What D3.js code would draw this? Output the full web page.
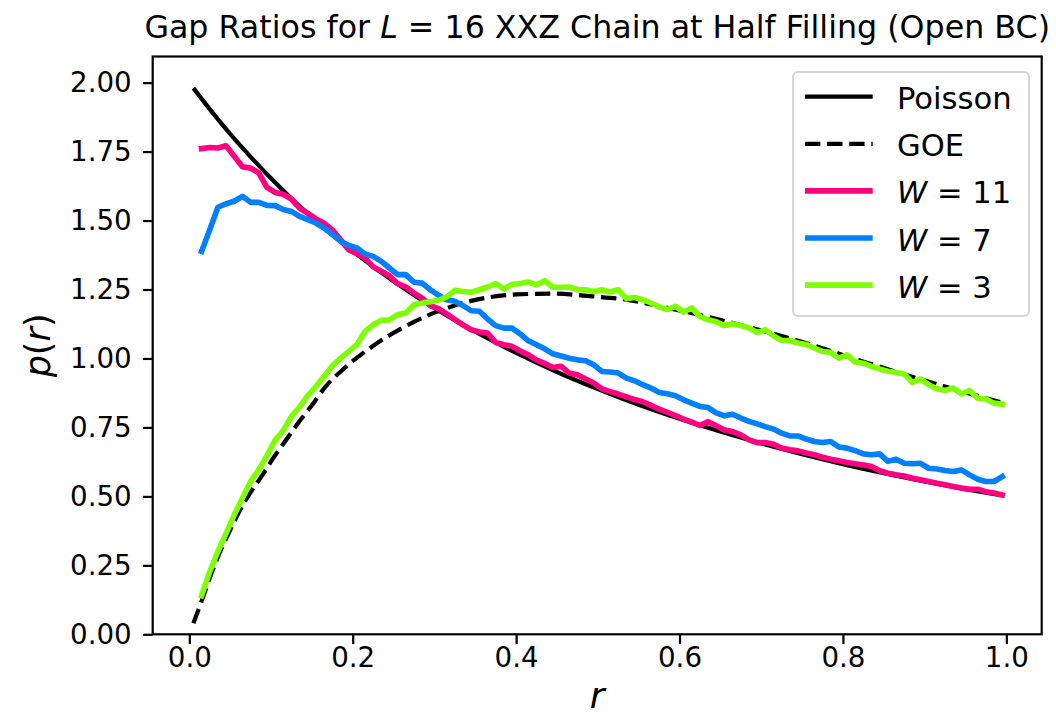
<!DOCTYPE html>
<html>
<head>
<meta charset="utf-8">
<script src="https://cdnjs.cloudflare.com/ajax/libs/d3/7.8.5/d3.min.js"></script>
<style>
  body { margin: 0; background: #fff; }
  svg { display: block; font-family: "DejaVu Sans", sans-serif; }
</style>
</head>
<body>
<svg id="chart" width="1056" height="719"></svg>
<script>
// Histogram bin centres (r) for the disorder series
var rBins = [0.015, 0.025, 0.035, 0.045, 0.055, 0.065, 0.075, 0.085, 0.095, 0.105,
    0.115, 0.125, 0.135, 0.145, 0.155, 0.165, 0.175, 0.185, 0.195, 0.205,
    0.215, 0.225, 0.235, 0.245, 0.255, 0.265, 0.275, 0.285, 0.295, 0.305,
    0.315, 0.325, 0.335, 0.345, 0.355, 0.365, 0.375, 0.385, 0.395, 0.405,
    0.415, 0.425, 0.435, 0.445, 0.455, 0.465, 0.475, 0.485, 0.495, 0.505,
    0.515, 0.525, 0.535, 0.545, 0.555, 0.565, 0.575, 0.585, 0.595, 0.605,
    0.615, 0.625, 0.635, 0.645, 0.655, 0.665, 0.675, 0.685, 0.695, 0.705,
    0.715, 0.725, 0.735, 0.745, 0.755, 0.765, 0.775, 0.785, 0.795, 0.805,
    0.815, 0.825, 0.835, 0.845, 0.855, 0.865, 0.875, 0.885, 0.895, 0.905,
    0.915, 0.925, 0.935, 0.945, 0.955, 0.965, 0.975, 0.985, 0.995];

var pW11 = [1.761, 1.765, 1.763, 1.771, 1.733, 1.695, 1.690, 1.673, 1.620, 1.602,
    1.595, 1.578, 1.545, 1.526, 1.506, 1.490, 1.466, 1.431, 1.394, 1.380,
    1.364, 1.332, 1.316, 1.300, 1.271, 1.259, 1.237, 1.219, 1.191, 1.181,
    1.162, 1.141, 1.122, 1.104, 1.096, 1.092, 1.058, 1.050, 1.044, 1.027,
    1.013, 0.994, 0.982, 0.967, 0.972, 0.947, 0.941, 0.926, 0.911, 0.890,
    0.880, 0.871, 0.861, 0.851, 0.843, 0.830, 0.816, 0.805, 0.793, 0.780,
    0.769, 0.757, 0.771, 0.756, 0.741, 0.735, 0.723, 0.705, 0.695, 0.695,
    0.689, 0.675, 0.669, 0.665, 0.657, 0.651, 0.642, 0.635, 0.629, 0.623,
    0.618, 0.614, 0.608, 0.593, 0.584, 0.578, 0.574, 0.566, 0.560, 0.554,
    0.548, 0.542, 0.536, 0.530, 0.526, 0.526, 0.517, 0.512, 0.505];

var pW7 = [1.388, 1.467, 1.548, 1.561, 1.570, 1.588, 1.566, 1.566, 1.555, 1.554,
    1.540, 1.533, 1.515, 1.503, 1.491, 1.473, 1.450, 1.425, 1.410, 1.401,
    1.379, 1.370, 1.352, 1.328, 1.304, 1.304, 1.276, 1.273, 1.249, 1.229,
    1.213, 1.207, 1.192, 1.173, 1.171, 1.143, 1.119, 1.110, 1.110, 1.089,
    1.064, 1.050, 1.035, 1.017, 1.009, 1.001, 0.995, 0.992, 0.977, 0.953,
    0.951, 0.947, 0.929, 0.919, 0.905, 0.893, 0.877, 0.872, 0.865, 0.850,
    0.838, 0.826, 0.822, 0.803, 0.792, 0.798, 0.784, 0.772, 0.763, 0.753,
    0.744, 0.729, 0.719, 0.719, 0.708, 0.699, 0.695, 0.699, 0.679, 0.675,
    0.666, 0.654, 0.651, 0.654, 0.627, 0.635, 0.620, 0.618, 0.620, 0.602,
    0.599, 0.594, 0.590, 0.596, 0.578, 0.562, 0.554, 0.554, 0.572];

var pW3 = [0.140, 0.227, 0.300, 0.366, 0.433, 0.493, 0.554, 0.596, 0.647, 0.703,
    0.739, 0.790, 0.824, 0.865, 0.898, 0.935, 0.973, 1.001, 1.025, 1.050,
    1.098, 1.122, 1.138, 1.140, 1.159, 1.165, 1.195, 1.201, 1.206, 1.211,
    1.223, 1.247, 1.243, 1.240, 1.249, 1.259, 1.271, 1.252, 1.269, 1.272,
    1.277, 1.267, 1.282, 1.258, 1.258, 1.259, 1.249, 1.249, 1.243, 1.249,
    1.241, 1.249, 1.217, 1.221, 1.213, 1.201, 1.187, 1.177, 1.189, 1.168,
    1.183, 1.152, 1.140, 1.133, 1.119, 1.126, 1.119, 1.111, 1.094, 1.104,
    1.082, 1.065, 1.065, 1.056, 1.051, 1.038, 1.025, 1.022, 1.001, 1.013,
    0.987, 0.983, 0.971, 0.962, 0.954, 0.949, 0.944, 0.913, 0.925, 0.905,
    0.890, 0.884, 0.893, 0.871, 0.884, 0.856, 0.853, 0.838, 0.834];

// Reference curves
var rPoisson = [0.005, 0.025, 0.05, 0.075, 0.1, 0.125, 0.15, 0.2, 0.25, 0.3, 0.35, 0.4,
    0.45, 0.5, 0.55, 0.6, 0.65, 0.7, 0.75, 0.8, 0.85, 0.9, 0.95, 0.995];
var pPoisson = [1.980, 1.904, 1.814, 1.731, 1.653, 1.580, 1.512, 1.389, 1.280, 1.183, 1.097, 1.020,
    0.951, 0.889, 0.832, 0.781, 0.735, 0.692, 0.653, 0.617, 0.584, 0.554, 0.526, 0.503];

var rGOE = [0.005, 0.015, 0.027, 0.04, 0.052, 0.062, 0.074, 0.089, 0.103, 0.115, 0.133, 0.15,
    0.166, 0.19, 0.227, 0.264, 0.301, 0.34, 0.40, 0.445, 0.494, 0.535, 0.576, 0.637,
    0.652, 0.741, 0.831, 0.925, 0.995];
var pGOE = [0.040, 0.120, 0.220, 0.315, 0.390, 0.450, 0.510, 0.575, 0.640, 0.690, 0.765, 0.830,
    0.895, 0.965, 1.050, 1.116, 1.167, 1.205, 1.232, 1.235, 1.225, 1.213, 1.189, 1.149,
    1.138, 1.068, 0.983, 0.898, 0.840];

var xTicks = [0.0, 0.2, 0.4, 0.6, 0.8, 1.0];
var yTicks = [0.00, 0.25, 0.50, 0.75, 1.00, 1.25, 1.50, 1.75, 2.00];

var disorderLabels = ["11", "7", "3"];
var disorderColors = ["#ff0080", "#0080ff", "#80ff00"];

(function () {
    // layout (pixels)
    var width = 1056, height = 719,
        plotLeft = 152.7, plotRight = 1041.7, plotTop = 56.5, plotBottom = 634.3,
        tickLen = 9.7, axisStroke = 2.2;

    var svg = d3.select("#chart");

    svg.append("rect").attr("width", width).attr("height", height).attr("fill", "#fff");

    var x = d3.scaleLinear().domain([-0.0448, 1.0433]).range([plotLeft, plotRight]);
    var y = d3.scaleLinear().domain([0, 2.0947]).range([plotBottom, plotTop]);

    function zip(xs, ys) {
        return xs.map(function (v, i) { return [v, ys[i]]; });
    }

    var smooth = d3.line()
        .x(function (d) { return x(d[0]); })
        .y(function (d) { return y(d[1]); })
        .curve(d3.curveMonotoneX);

    var jagged = d3.line()
        .x(function (d) { return x(d[0]); })
        .y(function (d) { return y(d[1]); });

    var plot = svg.append("g");

    // Poisson (solid) and GOE (dashed)
    plot.append("path")
        .datum(zip(rPoisson, pPoisson))
        .attr("d", smooth)
        .attr("fill", "none")
        .attr("stroke", "#000")
        .attr("stroke-width", 4.2);

    plot.append("path")
        .datum(zip(rGOE, pGOE))
        .attr("d", smooth)
        .attr("fill", "none")
        .attr("stroke", "#000")
        .attr("stroke-width", 4.2)
        .attr("stroke-dasharray", "15.4,6.7");

    // disorder strengths, in legend order
    [pW11, pW7, pW3].forEach(function (vals, i) {
        plot.append("path")
            .datum(zip(rBins, vals))
            .attr("d", jagged)
            .attr("fill", "none")
            .attr("stroke", disorderColors[i])
            .attr("stroke-width", 5.6)
            .attr("stroke-linejoin", "round")
            .attr("stroke-linecap", "square");
    });

    // axes
    var xAxis = svg.append("g")
        .attr("transform", "translate(0," + plotBottom + ")")
        .call(d3.axisBottom(x).tickValues(xTicks).tickFormat(d3.format(".1f"))
            .tickSize(tickLen).tickPadding(3));

    var yAxis = svg.append("g")
        .attr("transform", "translate(" + plotLeft + ",0)")
        .call(d3.axisLeft(y).tickValues(yTicks).tickFormat(d3.format(".2f"))
            .tickSize(tickLen).tickPadding(11.3));

    [xAxis, yAxis].forEach(function (g) {
        g.select(".domain").remove();
        g.selectAll("line").attr("stroke", "#000").attr("stroke-width", axisStroke);
        g.selectAll("text")
            .attr("fill", "#000")
            .style("font-family", "'DejaVu Sans', sans-serif")
            .style("font-size", "27.7px");
    });

    // frame
    svg.append("rect")
        .attr("x", plotLeft).attr("y", plotTop)
        .attr("width", plotRight - plotLeft).attr("height", plotBottom - plotTop)
        .attr("fill", "none")
        .attr("stroke", "#000")
        .attr("stroke-width", axisStroke);

    // title
    var title = svg.append("text")
        .attr("x", (plotLeft + plotRight) / 2)
        .attr("y", 38)
        .attr("text-anchor", "middle")
        .style("font-size", "31.7px");
    title.append("tspan").text("Gap Ratios for ");
    title.append("tspan").style("font-style", "italic").text("L");
    title.append("tspan").text(" = 16 XXZ Chain at Half Filling (Open BC)");

    // axis labels
    svg.append("text")
        .attr("x", (plotLeft + plotRight) / 2)
        .attr("y", 708)
        .attr("text-anchor", "middle")
        .style("font-size", "36px")
        .style("font-style", "italic")
        .text("r");

    var ylab = svg.append("text")
        .attr("transform", "translate(50," + ((plotTop + plotBottom) / 2) + ") rotate(-90)")
        .attr("text-anchor", "middle")
        .style("font-size", "35px");
    ylab.append("tspan").style("font-style", "italic").text("p");
    ylab.append("tspan").text("(");
    ylab.append("tspan").style("font-style", "italic").text("r");
    ylab.append("tspan").text(")");

    // legend
    var legend = svg.append("g");
    legend.append("rect")
        .attr("x", 793).attr("y", 72)
        .attr("width", 236).attr("height", 244)
        .attr("rx", 5)
        .attr("fill", "#fff").attr("fill-opacity", 0.8)
        .attr("stroke", "#d6d6d6").attr("stroke-width", 2);

    var rowY = function (i) { return 96.7 + i * 47.1; };
    var entries = [
        { label: "Poisson", color: "#000", w: 4.2, dash: null },
        { label: "GOE", color: "#000", w: 4.2, dash: "15.4,6.7" }
    ].concat(disorderLabels.map(function (v, i) {
        return { label: v, color: disorderColors[i], w: 5.6, dash: null, isW: true };
    }));

    entries.forEach(function (e, i) {
        legend.append("line")
            .attr("x1", 805).attr("x2", 872.7)
            .attr("y1", rowY(i)).attr("y2", rowY(i))
            .attr("stroke", e.color)
            .attr("stroke-width", e.w)
            .attr("stroke-dasharray", e.dash);
        var t = legend.append("text")
            .attr("x", 897).attr("y", rowY(i))
            .attr("dy", "0.41em")
            .style("font-size", "30.6px");
        if (e.isW) {
            t.append("tspan").style("font-style", "italic").text("W");
            t.append("tspan").text(" = " + e.label);
        } else {
            t.text(e.label);
        }
    });
})();
</script>
</body>
</html>
